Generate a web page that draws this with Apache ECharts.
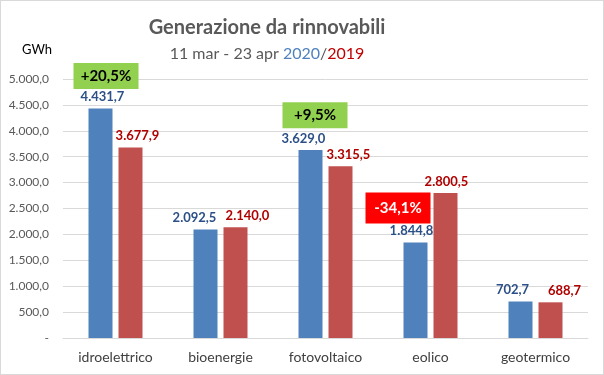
<!DOCTYPE html>
<html>
<head>
<meta charset="utf-8">
<script src="https://cdn.jsdelivr.net/npm/echarts@6/dist/echarts.min.js"></script>
<style>
html,body{margin:0;padding:0;background:#fff;}
#c{width:602px;height:373px;border:1px solid #D9D9D9;}
</style>
</head>
<body>
<div id="c"></div>
<script>
var categories = ['idroelettrico', 'bioenergie', 'fotovoltaico', 'eolico', 'geotermico'];
var values2020 = [4431.7, 2092.5, 3629.0, 1844.8, 702.7];
var values2019 = [3677.9, 2140.0, 3315.5, 2800.5, 688.7];
var yTicks = [0, 500, 1000, 1500, 2000, 2500, 3000, 3500, 4000, 4500, 5000];
var changeLabels = ['+20,5%', '+9,5%', '-34,1%'];
var changeCategories = ['idroelettrico', 'fotovoltaico', 'eolico'];
var changeLevels = [5000, 4298, 2510];

// label styling (horizontal nudges of the value labels, as in the original)
var labelShift2020 = [2, -11, -7, -4, -8];
var labelShift2019 = [7, 12, 8, 1, 14];

function fmt(v) {
  if (v === 0) return '-';
  var s = v.toFixed(1).split('.');
  var ip = s[0].replace(/\B(?=(\d{3})+(?!\d))/g, '.');
  return ip + ',' + s[1];
}

var FONT = 'Lato';
var chart = echarts.init(document.getElementById('c'));
var boxStyles = [
  {color: '#92D050', text: '#000000', w: 65, h: 26, off: [5.5, -3]},
  {color: '#92D050', text: '#000000', w: 65, h: 26, off: [4.5, 0]},
  {color: '#FF0000', text: '#FFFFFF', w: 65, h: 31, off: [-17.5, 0]}
];
var mpData = changeLabels.map(function (t, i) {
  var b = boxStyles[i];
  return {
    coord: [changeCategories[i], changeLevels[i]],
    value: t,
    symbol: 'rect',
    symbolSize: [b.w, b.h],
    symbolOffset: b.off,
    itemStyle: {color: b.color},
    label: {show: true, position: 'inside', formatter: t, color: b.text, fontSize: 15, fontWeight: 'bold', fontFamily: FONT}
  };
});

function items(vals, shifts) {
  return vals.map(function (v, i) {
    return {value: v, label: {offset: [shifts[i], 0]}};
  });
}

chart.setOption({
  animation: false,
  textStyle: {fontFamily: FONT},
  title: [{
    text: 'Generazione da rinnovabili',
    left: 261, top: 12, textAlign: 'center',
    textStyle: {fontSize: 20, fontWeight: 'bold', color: '#595959', fontFamily: FONT}
  }, {
    text: '11 mar - 23 apr {a|2020}/{b|2019}',
    left: 261, top: 40, textAlign: 'center',
    textStyle: {fontSize: 16, fontWeight: 'normal', color: '#595959', fontFamily: FONT,
      rich: {a: {fontSize: 16, color: '#4F81BD', fontFamily: FONT}, b: {fontSize: 16, color: '#C00000', fontFamily: FONT}}}
  }, {
    text: 'GWh', left: 16, top: 37,
    textStyle: {fontSize: 13, fontWeight: 'normal', color: '#000000', fontFamily: FONT}
  }],
  grid: {left: 62, right: 15, top: 78, bottom: 36, containLabel: false},
  xAxis: {
    type: 'category', data: categories,
    axisLine: {lineStyle: {color: '#D9D9D9'}},
    axisTick: {show: false},
    axisLabel: {fontSize: 14, color: '#404040', margin: 12, fontFamily: FONT}
  },
  yAxis: {
    type: 'value', min: yTicks[0], max: yTicks[yTicks.length - 1], interval: yTicks[1] - yTicks[0],
    axisLine: {show: false}, axisTick: {show: false},
    splitLine: {lineStyle: {color: '#D9D9D9'}},
    axisLabel: {fontSize: 12, color: '#595959', margin: 14, formatter: fmt, fontFamily: FONT}
  },
  series: [{
    type: 'bar', name: '2020', data: items(values2020, labelShift2020), barWidth: 24, barGap: '25%',
    itemStyle: {color: '#4F81BD'},
    label: {show: true, position: 'top', distance: 5, formatter: function (p) { return fmt(p.value); },
      color: '#2B4F86', fontSize: 13, fontWeight: 'bold', fontFamily: FONT},
    markPoint: {data: mpData, silent: true}
  }, {
    type: 'bar', name: '2019', data: items(values2019, labelShift2019), barWidth: 24, barGap: '25%',
    itemStyle: {color: '#C0504D'},
    label: {show: true, position: 'top', distance: 5, formatter: function (p) { return fmt(p.value); },
      color: '#B00000', fontSize: 13, fontWeight: 'bold', fontFamily: FONT}
  }]
});
</script>
</body>
</html>
